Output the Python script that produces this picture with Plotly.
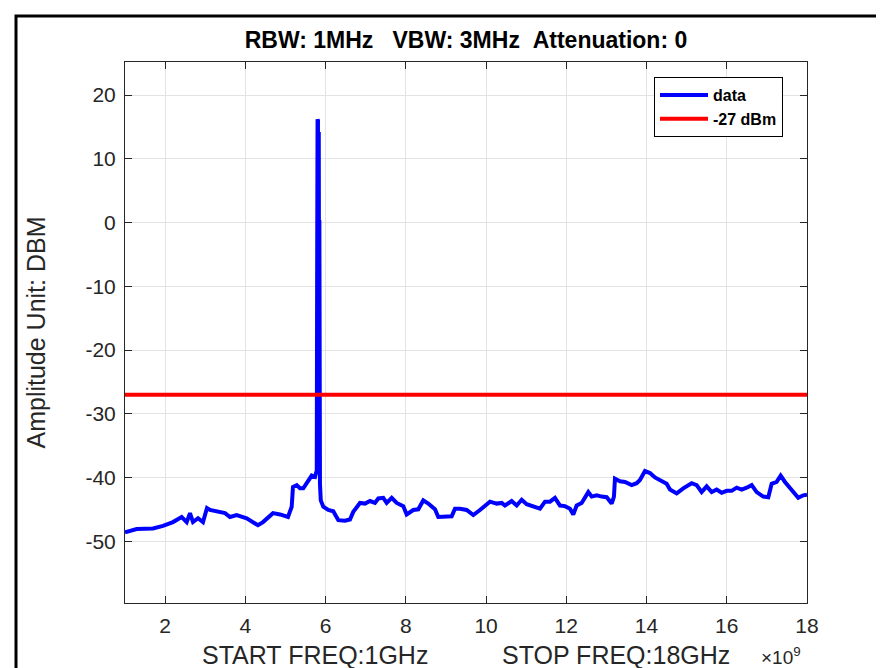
import plotly.graph_objects as go

# Frequency (GHz, axis shown with x10^9 multiplier) and amplitude (dBm)
freq_ghz = [1.000, 1.292, 1.698, 1.947, 2.196, 2.413, 2.538, 2.620, 2.695, 2.820, 2.944,
            3.044, 3.119, 3.368, 3.493, 3.617, 3.784, 4.033, 4.315, 4.440, 4.689, 4.863,
            5.063, 5.155, 5.187, 5.280, 5.362, 5.444, 5.569, 5.654, 5.736, 5.780,
            5.790, 5.800, 5.810, 5.815, 5.820, 5.830, 5.835, 5.840, 5.845, 5.850, 5.860,
            5.880, 5.943, 6.067, 6.192, 6.317, 6.484, 6.608, 6.690, 6.857, 6.982, 7.107,
            7.231, 7.314, 7.438, 7.523, 7.648, 7.772, 7.937, 8.021, 8.186, 8.311, 8.435,
            8.560, 8.727, 8.809, 9.018, 9.143, 9.225, 9.350, 9.517, 9.682, 9.848, 10.098,
            10.265, 10.390, 10.471, 10.638, 10.763, 10.888, 11.012, 11.177, 11.344, 11.469,
            11.593, 11.718, 11.843, 11.967, 12.092, 12.174, 12.259, 12.383, 12.466, 12.548,
            12.633, 12.757, 12.882, 13.007, 13.131, 13.188, 13.213, 13.338, 13.463, 13.630,
            13.754, 13.836, 13.961, 14.086, 14.210, 14.335, 14.417, 14.502, 14.584, 14.751,
            14.916, 15.125, 15.250, 15.374, 15.499, 15.624, 15.749, 15.873, 15.998, 16.122,
            16.247, 16.372, 16.496, 16.621, 16.746, 16.910, 17.035, 17.119, 17.244, 17.344,
            17.451, 17.576, 17.657, 17.782, 17.907, 18.000]
amp_dbm = [-48.6, -48.1, -48.0, -47.6, -47.0, -46.2, -47.0, -45.6, -47.0, -46.4, -47.0,
           -44.8, -45.1, -45.4, -45.6, -46.2, -45.9, -46.4, -47.5, -47.0, -45.6, -45.8,
           -46.2, -44.6, -41.5, -41.2, -41.7, -41.7, -40.4, -39.7, -39.9, -38.9,
           -7.2, 16.2, 16.0, -30.0, 14.2, 14.2, 0.4, -30.0, 0.4, -36.5, -41.0,
           -43.6, -44.6, -45.1, -45.3, -46.7, -46.8, -46.6, -45.4, -44.0, -44.1, -43.7,
           -44.0, -43.3, -43.2, -44.0, -43.2, -44.0, -44.5, -45.8, -45.1, -45.0, -43.6,
           -44.1, -45.0, -46.2, -46.1, -46.1, -44.9, -44.9, -45.1, -45.9, -45.1, -43.8,
           -44.1, -44.0, -44.4, -43.7, -44.4, -43.5, -44.2, -44.5, -44.9, -43.8,
           -43.8, -43.2, -44.4, -44.5, -44.9, -45.8, -44.4, -44.0, -43.0, -42.3,
           -43.0, -42.8, -43.0, -43.1, -44.1, -43.0, -40.2, -40.6, -40.7, -41.2,
           -40.9, -40.4, -39.0, -39.3, -40.0, -40.4, -40.7, -41.0, -41.9, -42.5,
           -41.7, -40.9, -41.2, -42.3, -41.4, -42.3, -41.9, -42.4, -42.1, -42.1,
           -41.6, -41.9, -41.6, -41.2, -42.3, -43.0, -43.1, -41.0, -40.7, -39.7,
           -40.7, -41.7, -42.3, -43.2, -42.8, -42.7]

limit_x = [1, 18]
limit_y = [-27, -27]

x_ticks = [2, 4, 6, 8, 10, 12, 14, 16, 18]
y_ticks = [20, 10, 0, -10, -20, -30, -40, -50]

title_text = "RBW: 1MHz\u00a0\u00a0\u00a0VBW: 3MHz\u00a0\u00a0Attenuation: 0"
y_label = "Amplitude Unit: DBM"
start_label = "START FREQ:1GHz"
stop_label = "STOP FREQ:18GHz"

FONT = "Liberation Sans, Arial, Helvetica, sans-serif"
AX = "#262626"
GRID = "#e3e3e3"

# page body has an 8px margin, so the figure is 8px smaller than the window
W, H = 876, 660
L, T, R, B = 117, 54, 799, 595   # plot area in figure pixels
PW, PH = R - L, B - T

def px(xp):   # figure pixel -> paper x
    return (xp - L) / PW

def py(yp):   # figure pixel -> paper y
    return (B - yp) / PH

fig = go.Figure()
fig.add_trace(go.Scatter(x=freq_ghz, y=amp_dbm, mode="lines", name="data",
                         line=dict(color="#0000ff", width=4)))
fig.add_trace(go.Scatter(x=limit_x, y=limit_y, mode="lines", name="-27 dBm",
                         line=dict(color="#ff0000", width=4)))

axis_common = dict(showline=True, linecolor=AX, linewidth=1, mirror="ticks",
                   ticks="inside", ticklen=7, tickcolor=AX, showgrid=True,
                   gridcolor=GRID, gridwidth=1, zeroline=False,
                   tickfont=dict(family=FONT, size=21, color=AX))

fig.update_layout(
    width=W, height=H,
    paper_bgcolor="white", plot_bgcolor="white",
    margin=dict(l=L, r=W - R, t=T, b=H - B, autoexpand=False),
    title=dict(text="<b>" + title_text + "</b>", x=0.5, xref="paper", xanchor="center",
               y=1 - 32 / H, yanchor="middle",
               font=dict(family=FONT, size=23, color="black")),
    xaxis=dict(range=[1, 18], tickvals=x_ticks, ticktext=[str(v) for v in x_ticks],
               ticklabelstandoff=4, **axis_common),
    yaxis=dict(range=[-59.7, 25.2], tickvals=y_ticks, ticktext=[str(v) for v in y_ticks],
               title=dict(text=y_label, font=dict(family=FONT, size=25, color=AX), standoff=32),
               ticklabelstandoff=4, **axis_common),
    legend=dict(x=px(646), y=py(69), xanchor="left", yanchor="top",
                bgcolor="white", bordercolor="black", borderwidth=1,
                font=dict(family=FONT, size=16, color="black", weight="bold"),
                tracegroupgap=0, itemwidth=48),
    showlegend=True,
)

fig.add_annotation(text=start_label, xref="paper", yref="paper",
                   x=px(307), y=py(647), xanchor="center", yanchor="middle",
                   showarrow=False, font=dict(family=FONT, size=25, color=AX))
fig.add_annotation(text=stop_label, xref="paper", yref="paper",
                   x=px(608), y=py(647), xanchor="center", yanchor="middle",
                   showarrow=False, font=dict(family=FONT, size=25, color=AX))
fig.add_annotation(text="\u00d710<sup>9</sup>", xref="paper", yref="paper",
                   x=px(773), y=py(648), xanchor="center", yanchor="middle",
                   showarrow=False, font=dict(family=FONT, size=19, color=AX))

# outer figure frame
fig.add_shape(type="rect", xref="paper", yref="paper",
              x0=px(8), x1=px(W + 40), y0=py(H + 40), y1=py(8),
              line=dict(color="black", width=3), fillcolor="rgba(0,0,0,0)", layer="above")

fig.write_html("out.html")
